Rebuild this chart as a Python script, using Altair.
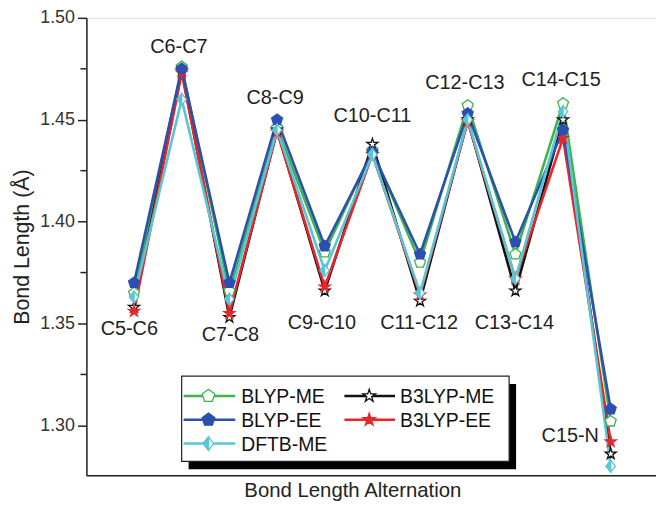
import altair as alt
import pandas as pd

bonds = ["C5-C6", "C6-C7", "C7-C8", "C8-C9", "C9-C10", "C10-C11",
         "C11-C12", "C12-C13", "C13-C14", "C14-C15", "C15-N"]
blyp_me = [1.365, 1.476, 1.366, 1.446, 1.385, 1.435, 1.380, 1.457, 1.384, 1.458, 1.302]
blyp_ee = [1.370, 1.475, 1.370, 1.450, 1.388, 1.434, 1.384, 1.453, 1.390, 1.445, 1.308]
dftb_me = [1.363, 1.460, 1.362, 1.445, 1.376, 1.433, 1.365, 1.450, 1.372, 1.454, 1.280]
b3lyp_me = [1.358, 1.474, 1.353, 1.445, 1.366, 1.438, 1.361, 1.450, 1.366, 1.450, 1.286]
b3lyp_ee = [1.356, 1.473, 1.355, 1.444, 1.368, 1.433, 1.364, 1.449, 1.372, 1.441, 1.292]

label_x = [0.90, 1.94, 3.02, 3.96, 4.94, 6.0, 6.98, 7.94, 8.98, 9.96, 10.15]
label_y = [1.3471, 1.4856, 1.3442, 1.4606, 1.350, 1.4519, 1.350, 1.4678, 1.350, 1.4697, 1.2947]

y_major = [1.30, 1.35, 1.40, 1.45, 1.50]
y_minor = [1.325, 1.375, 1.425, 1.475]

GREEN = "#3db54a"
BLUE = "#2c4fb0"
CYAN = "#58c6d4"
RED = "#e8262a"
BLACK = "#111111"

PENT = "M0,-1L0.951,-0.309L0.588,0.809L-0.588,0.809L-0.951,-0.309Z"
STAR = ("M0,-1L0.2245,-0.309L0.951,-0.309L0.3633,0.118L0.5878,0.809L0,0.382"
        "L-0.5878,0.809L-0.3633,0.118L-0.951,-0.309L-0.2245,-0.309Z")
DIAM = "M0,-1L0.8,0L0,1L-0.8,0Z"
HALF = "M0,-1L-0.8,0L0,1Z"

idx = list(range(1, len(bonds) + 1))

series = [
    ("BLYP-ME", blyp_me, GREEN, [(PENT, "white", GREEN)]),
    ("B3LYP-ME", b3lyp_me, BLACK, [(STAR, "white", BLACK)]),
    ("B3LYP-EE", b3lyp_ee, RED, [(STAR, RED, RED)]),
    ("BLYP-EE", blyp_ee, BLUE, [(PENT, BLUE, BLUE)]),
    ("DFTB-ME", dftb_me, CYAN, [(DIAM, "white", CYAN), (HALF, CYAN, CYAN)]),
]

FONT = "Liberation Sans"
XS = alt.Scale(domain=[0, 11.95], nice=False, zero=False)
YS = alt.Scale(domain=[1.2755, 1.50], nice=False, zero=False)

x_enc = alt.X("i:Q", scale=XS,
              axis=alt.Axis(labels=False, ticks=False, grid=False,
                            title="Bond Length Alternation", titleFontSize=20.5,
                            titleFontWeight="normal", titleFont=FONT,
                            titleColor="#222", titlePadding=5, titleX=268,
                            domainColor="#222", domainWidth=1.5))
y_enc = alt.Y("v:Q", scale=YS,
              axis=alt.Axis(values=y_major, format=".2f", grid=False,
                            labelFontSize=18, labelFont=FONT,
                            labelColor="#333", tickSize=9, tickColor="#222",
                            tickWidth=1.5, labelPadding=3,
                            title="Bond Length (Å)", titleFontSize=21.5,
                            titleFont=FONT, titleFontWeight="normal",
                            titleColor="#222", titlePadding=6,
                            domainColor="#222", domainWidth=1.5))

# Legend geometry (pixels inside plot area)
BX1, BX2, BY1, BY2 = 96, 426, 361, 447
one = alt.Data(values=[{"a": 1}])
layers = []
layers.append(alt.Chart(one).mark_rect(color="black").encode(
    x=alt.value(BX1 + 7), x2=alt.value(BX2 + 7), y=alt.value(BY1 + 8), y2=alt.value(BY2 + 8)))
layers.append(alt.Chart(one).mark_rect(fill="white", stroke="#222", strokeWidth=1.2).encode(
    x=alt.value(BX1), x2=alt.value(BX2), y=alt.value(BY1), y2=alt.value(BY2)))

for name, vals, col, marks in series:
    df = pd.DataFrame({"i": idx, "v": vals, "bond": bonds})
    layers.append(alt.Chart(df).mark_line(color=col, strokeWidth=2.6).encode(x=x_enc, y=y_enc))
for name, vals, col, marks in series:
    df = pd.DataFrame({"i": idx, "v": vals, "bond": bonds})
    for shp, fill, stroke in marks:
        layers.append(alt.Chart(df).mark_point(shape=shp, filled=True, fill=fill,
                                               stroke=stroke, strokeWidth=1.3,
                                               size=135, opacity=1).encode(x=x_enc, y=y_enc))

ldf = pd.DataFrame({"i": label_x, "v": label_y, "bond": bonds})
layers.append(alt.Chart(ldf).mark_text(fontSize=20, font=FONT, color="#222").encode(
    x="i:Q", y="v:Q", text="bond:N"))

mdf = pd.DataFrame({"v": y_minor})
layers.append(alt.Chart(mdf).mark_rule(color="#222", strokeWidth=1.5).encode(
    x=alt.value(-6), x2=alt.value(0), y="v:Q"))

legend_items = [
    ("BLYP-ME", GREEN, [(PENT, "white", GREEN)], 0, 0),
    ("BLYP-EE", BLUE, [(PENT, BLUE, BLUE)], 0, 1),
    ("DFTB-ME", CYAN, [(DIAM, "white", CYAN), (HALF, CYAN, CYAN)], 0, 2),
    ("B3LYP-ME", BLACK, [(STAR, "white", BLACK)], 1, 0),
    ("B3LYP-EE", RED, [(STAR, RED, RED)], 1, 1),
]
col_x = [(98, 150, 123, 156), (260, 311, 285, 316)]
row_y = [381, 405, 429]
for name, col, marks, c, r in legend_items:
    x1, x2, mx, tx = col_x[c]
    yy = row_y[r]
    layers.append(alt.Chart(one).mark_rule(color=col, strokeWidth=2.5).encode(
        x=alt.value(x1), x2=alt.value(x2), y=alt.value(yy)))
    for shp, fill, stroke in marks:
        layers.append(alt.Chart(one).mark_point(shape=shp, filled=True, fill=fill,
                                                stroke=stroke, strokeWidth=1.3,
                                                size=180, opacity=1).encode(
            x=alt.value(mx), y=alt.value(yy)))
    layers.append(alt.Chart(one).mark_text(align="left", baseline="middle", fontSize=19.5,
                                           font=FONT, color="#111").encode(
        x=alt.value(tx), y=alt.value(yy + 1), text=alt.value(name)))

chart = alt.layer(*layers).properties(
    width=574, height=461,
    autosize=alt.AutoSizeParams(type="none"),
    padding={"left": 79, "top": 8, "right": 0, "bottom": 30},
).configure_view(stroke="#222", strokeWidth=1.5).configure(background="white")

chart.save("out.html", embed_options={"renderer": "svg", "actions": False})
